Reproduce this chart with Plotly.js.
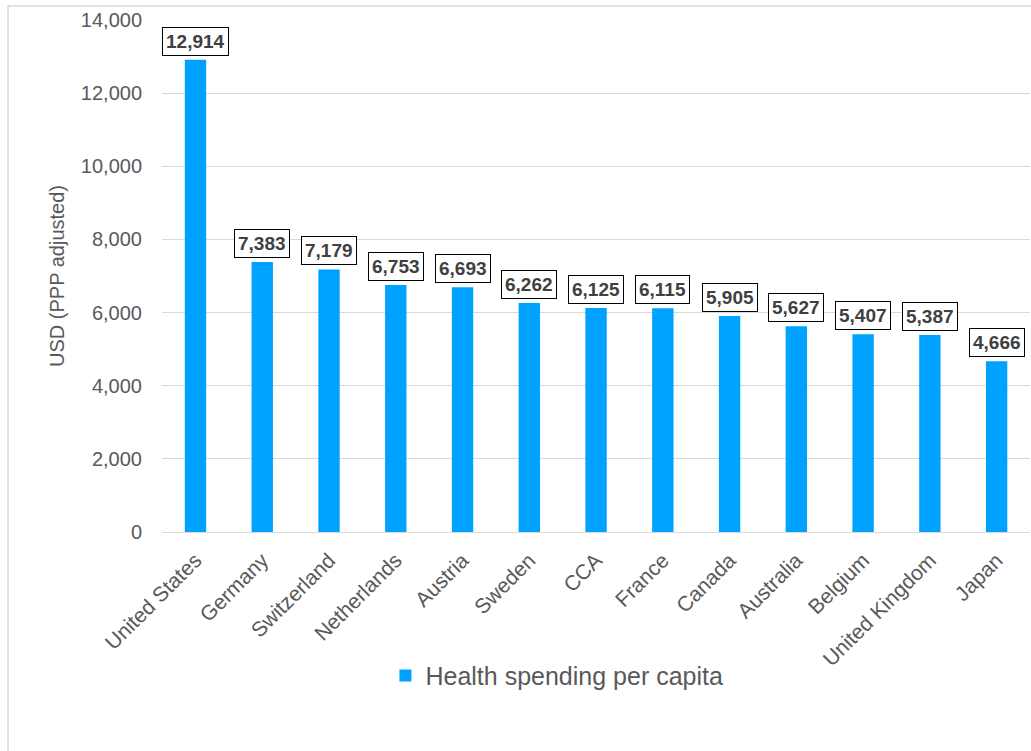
<!DOCTYPE html>
<html>
<head>
<meta charset="utf-8">
<script src="https://cdn.plot.ly/plotly-3.0.1.min.js"></script>
<style>
html,body{margin:0;padding:0;background:#fff;}
#chart{width:1031px;height:751px;}
</style>
</head>
<body>
<div id="chart"></div>
<script>
const countries = ["United States","Germany","Switzerland","Netherlands","Austria","Sweden","CCA","France","Canada","Australia","Belgium","United Kingdom","Japan"];
const spending = [12914,7383,7179,6753,6693,6262,6125,6115,5905,5627,5407,5387,4666];
const seriesName = "Health spending per capita";
const yTicks = [0,2000,4000,6000,8000,10000,12000,14000];

const FONT = "'Liberation Sans', Arial, Helvetica, sans-serif";

const annotations = countries.map((c,i)=>({
  x: c, y: spending[i], xref:'x', yref:'y',
  text: '<b>' + spending[i].toLocaleString('en-US') + '</b>',
  showarrow:false, yanchor:'bottom', yshift:4,
  font:{family:FONT, size:19, color:'#404040'},
  bgcolor:'#ffffff', bordercolor:'#000000', borderwidth:1, borderpad:3
}));

const trace = {
  type:'bar', x: countries, y: spending, name: seriesName,
  marker:{color:'#00A2FF'}, width:0.32, showlegend:true
};

const layout = {
  width:1031, height:751,
  margin:{l:162, r:1, t:20, b:219},
  paper_bgcolor:'#ffffff', plot_bgcolor:'#ffffff',
  font:{family:FONT, color:'#595959'},
  xaxis:{
    type:'category', tickangle:-45, tickfont:{size:21, color:'#595959', family:FONT},
    showgrid:false, showline:false, ticks:'', zeroline:false, fixedrange:true,
    ticklabelstandoff:11
  },
  yaxis:{
    range:[0,14000], tickvals:yTicks, ticktext:yTicks.map(v=>v.toLocaleString('en-US')),
    tickfont:{size:20, color:'#595959', family:FONT},
    gridcolor:'#d9d9d9', gridwidth:1, zeroline:true, zerolinecolor:'#d9d9d9', zerolinewidth:1,
    showline:false, ticks:'', ticklabelstandoff:19,
    title:{text:'USD (PPP adjusted)', font:{size:20, color:'#595959', family:FONT}, standoff:10}
  },
  legend:{orientation:'h', x:0.455, xanchor:'center', y:-0.281, yanchor:'middle',
    font:{size:25, color:'#595959', family:FONT}, itemwidth:30},
  annotations: annotations,
  shapes:[{type:'rect', xref:'paper', yref:'paper', x0:-0.1774, x1:1.01, y0:-0.46, y1:1.0273,
    line:{color:'#d9d9d9', width:1.5}, fillcolor:'rgba(0,0,0,0)', layer:'below'}],
  bargap:0.68
};

Plotly.newPlot('chart',[trace],layout,{displayModeBar:false, staticPlot:true});
</script>
</body>
</html>
